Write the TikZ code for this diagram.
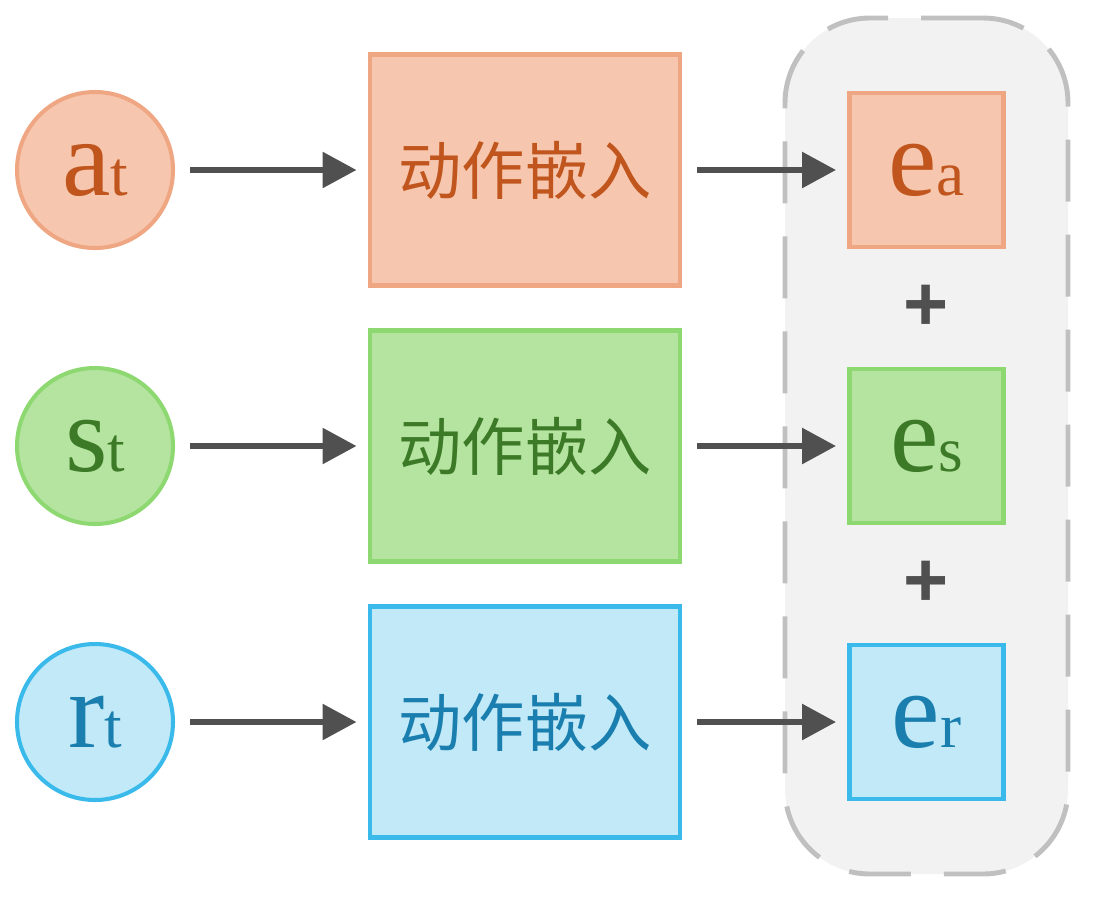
\documentclass[tikz,border=0pt]{standalone}
\usepackage{fontspec}
\setmainfont{Liberation Serif}
\setsansfont{Liberation Sans}
\newfontfamily\cjk{Noto Sans CJK SC}
\usetikzlibrary{arrows.meta,positioning,fit,calc,backgrounds}
\definecolor{ink}{HTML}{505050}
\definecolor{actfill}{HTML}{F6C7AE}
\definecolor{actdraw}{HTML}{EFA683}
\definecolor{acttext}{HTML}{C0561E}
\definecolor{stafill}{HTML}{B5E4A0}
\definecolor{stadraw}{HTML}{8DD871}
\definecolor{statext}{HTML}{3D7A28}
\definecolor{rewfill}{HTML}{C1E9F8}
\definecolor{rewdraw}{HTML}{3ABAEB}
\definecolor{rewtext}{HTML}{1A7FAF}
\definecolor{groupfill}{HTML}{F2F2F2}
\definecolor{groupdraw}{HTML}{C0C0C0}
\newcommand{\symsub}[2]{{\fontsize{62}{62}\selectfont #1}{\fontsize{36}{36}\selectfont #2}}
\tikzset{
  >={Triangle[length=6.8mm,width=7mm]},
  arrow/.style={->,line width=3.4pt,draw=ink,shorten <=0.34cm,shorten >=0.27cm},
  token/.style={circle,line width=2.3pt,minimum size=31.2mm,inner sep=0pt,outer sep=0pt},
  embbox/.style={rectangle,line width=2.8pt,minimum width=62mm,minimum height=46.2mm,inner sep=0pt,outer sep=0pt,font=\cjk\fontsize{36}{36}\selectfont},
  vecbox/.style={rectangle,line width=2.8pt,minimum size=30.8mm,inner sep=0pt,outer sep=0pt},
  act/.style={fill=actfill,draw=actdraw,text=acttext},
  sta/.style={fill=stafill,draw=stadraw,text=statext},
  rew/.style={fill=rewfill,draw=rewdraw,text=rewtext},
  group/.style={draw=groupdraw,fill=groupfill,line width=2.8pt,rounded corners=1.7cm,dash pattern=on 1.24cm off 0.66cm,inner xsep=1.29cm,inner ysep=1.5cm,outer sep=0pt},
  plus/.style={font=\sffamily\bfseries\fontsize{44}{44}\selectfont,text=ink,inner sep=0pt},
}
\begin{document}
\begin{tikzpicture}[node distance=2.4cm]
  \useasboundingbox (0,0) rectangle (21.94,-18.06);

  \node[token,act] (at) at (1.9,-3.4) {\symsub{a}{t}};
  \node[token,sta,below=of at] (st) {\symsub{s}{t}};
  \node[token,rew,below=of st] (rt) {\symsub{r}{t}};

  \node[embbox,act,right=3.94cm of at] (embA) {动作嵌入};
  \node[embbox,sta,right=3.94cm of st] (embS) {动作嵌入};
  \node[embbox,rew,right=3.94cm of rt] (embR) {动作嵌入};

  \node[vecbox,act,right=3.39cm of embA] (ea) {\symsub{e}{a}};
  \node[vecbox,sta,right=3.39cm of embS] (es) {\symsub{e}{s}};
  \node[vecbox,rew,right=3.39cm of embR] (er) {\symsub{e}{r}};

  \begin{scope}[on background layer]
    \node[group,fit=(ea)(er)] (sum) {};
  \end{scope}

  \node[plus] (p1) at ($(ea)!0.5!(es)$) {+};
  \node[plus] (p2) at ($(es)!0.5!(er)$) {+};

  \foreach \a/\b in {at/embA,st/embS,rt/embR,embA/ea,embS/es,embR/er}
    \draw[arrow] (\a) -- (\b);
\end{tikzpicture}
\end{document}
